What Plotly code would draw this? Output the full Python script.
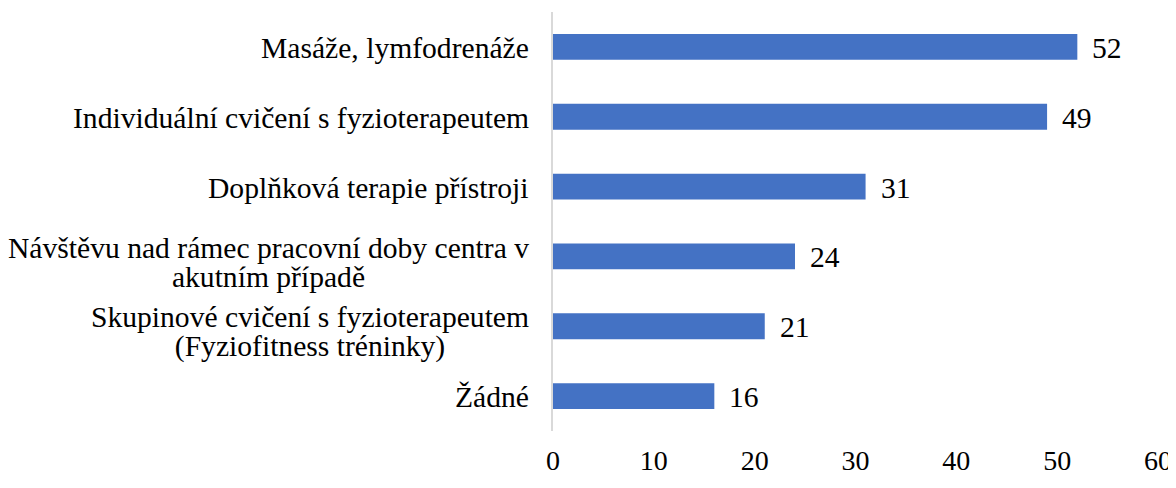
import plotly.graph_objects as go

categories = [
    "Masáže, lymfodrenáže",
    "Individuální cvičení s fyzioterapeutem",
    "Doplňková terapie přístroji",
    "Návštěvu nad rámec pracovní doby centra v<br>akutním případě",
    "Skupinové cvičení s fyzioterapeutem<br>(Fyziofitness tréninky)",
    "Žádné",
]
values = [52, 49, 31, 24, 21, 16]
x_ticks = [0, 10, 20, 30, 40, 50, 60]

FONT = "Liberation Serif"
FS = 29.6
LINE_H = 29  # tight Word-like line spacing

fig = go.Figure()
fig.add_trace(go.Bar(
    x=values, y=categories, orientation="h",
    marker=dict(color="#4472C4", line=dict(width=0)),
    hoverinfo="skip",
))

# value labels beside bars
for c, v in zip(categories, values):
    fig.add_annotation(x=v, y=c, text=str(v), showarrow=False,
                       xanchor="left", xshift=13, yshift=-1,
                       font=dict(family=FONT, size=FS, color="black"))

# category labels; plotly spaces lines at 1.3x the annotation font size,
# so a small base size with big spans gives the tight spacing of the original
for c in categories:
    lines = c.split("<br>")
    txt = "<br>".join(f"<span style='font-size:{FS}px'>{ln}</span>" for ln in lines)
    shift = -1 if len(lines) == 1 else -6
    fig.add_annotation(x=0, xref="paper", y=c, text=txt, showarrow=False,
                       xanchor="right", align="center", xshift=-22, yshift=shift,
                       font=dict(family=FONT, size=LINE_H / 1.3, color="black"))

fig.update_layout(
    width=1168, height=472,
    margin=dict(l=545, r=18, t=4, b=40),
    plot_bgcolor="white", paper_bgcolor="white",
    bargap=0.63,
    showlegend=False,
    font=dict(family=FONT, size=FS, color="black"),
)
fig.update_xaxes(range=[0, 60], tickvals=x_ticks, showgrid=False,
                 zeroline=False, showline=False, ticks="",
                 ticklabelstandoff=10, ticklabeloverflow="allow",
                 tickfont=dict(family=FONT, size=28, color="black"))
fig.update_yaxes(autorange="reversed", showticklabels=False, showgrid=False,
                 showline=True, linecolor="#d9d9d9", linewidth=2, ticks="")

fig.write_html("out.html")
